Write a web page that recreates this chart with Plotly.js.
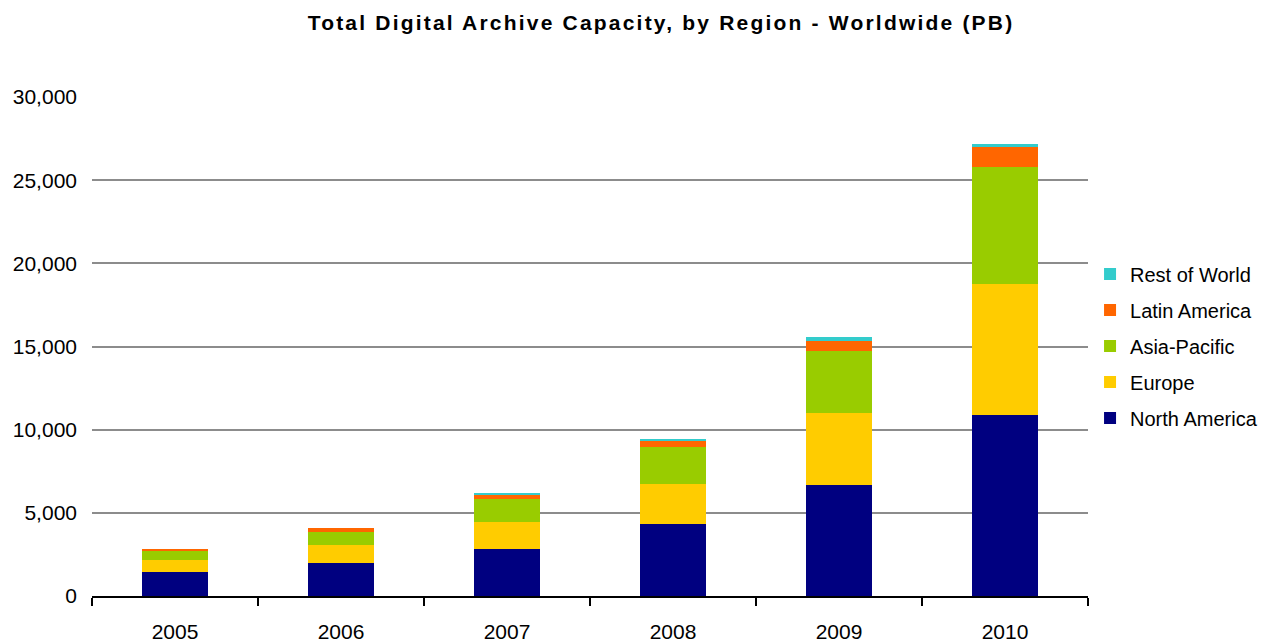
<!DOCTYPE html>
<html>
<head>
<meta charset="utf-8">
<script src="https://cdn.plot.ly/plotly-3.0.1.min.js"></script>
<style>
  html, body { margin: 0; padding: 0; background: #fff; }
  #chart { width: 1270px; height: 644px; }
  /* wider tracking on the chart title */
  #chart .gtitle { letter-spacing: 2.2px; }
</style>
</head>
<body>
<div id="chart"></div>
<script>
// Archive capacity in petabytes, by region and year
const years = ['2005', '2006', '2007', '2008', '2009', '2010'];
const northAmerica = [1420, 1960, 2800, 4310, 6670, 10870];
const europe = [720, 1080, 1630, 2410, 4320, 7900];
const asiaPacific = [540, 790, 1380, 2230, 3740, 7040];
const latinAmerica = [120, 240, 240, 360, 600, 1170];
const restOfWorld = [20, 30, 120, 120, 240, 220];

// legendRank puts Rest of World at the top of the legend, North America at the bottom
const series = [
  { name: 'North America', values: northAmerica, color: '#000080', legendRank: 5 },
  { name: 'Europe', values: europe, color: '#FFCC00', legendRank: 4 },
  { name: 'Asia-Pacific', values: asiaPacific, color: '#99CC00', legendRank: 3 },
  { name: 'Latin America', values: latinAmerica, color: '#FF6600', legendRank: 2 },
  { name: 'Rest of World', values: restOfWorld, color: '#33CCCC', legendRank: 1 }
];

const traces = series.map(s => ({
  type: 'bar',
  name: s.name,
  x: years,
  y: s.values,
  legendgroup: s.name,
  legendrank: s.legendRank,
  marker: { color: s.color, line: { width: 0 } },
  hoverinfo: 'x+y+name'
}));

const font = 'Liberation Sans, Arial, sans-serif';

const layout = {
  width: 1270,
  height: 644,
  margin: { l: 92, r: 182, t: 97, b: 48 },
  paper_bgcolor: '#ffffff',
  plot_bgcolor: '#ffffff',
  barmode: 'stack',
  bargap: 0.6,
  font: { family: font, size: 20, color: '#000000' },
  title: {
    text: '<b>Total Digital Archive Capacity, by Region - Worldwide (PB)</b>',
    font: { family: font, size: 21, color: '#000000' },
    x: 0.5205,
    xref: 'container',
    xanchor: 'center',
    y: 0.965,
    yanchor: 'middle'
  },
  xaxis: {
    type: 'category',
    showline: true,
    linecolor: '#000000',
    linewidth: 2,
    ticks: 'outside',
    tickson: 'boundaries',
    ticklen: 8,
    tickwidth: 2,
    tickcolor: '#000000',
    showgrid: false,
    ticklabelstandoff: 16,
    tickfont: { family: font, size: 21, color: '#000000' },
    fixedrange: true
  },
  yaxis: {
    range: [0, 30000],
    tickvals: [0, 5000, 10000, 15000, 20000, 25000, 30000],
    ticktext: ['0', '5,000', '10,000', '15,000', '20,000', '25,000', '30,000'],
    showgrid: true,
    gridcolor: '#8c8c8c',
    gridwidth: 2,
    zeroline: false,
    showline: false,
    ticks: '',
    ticklabelstandoff: 14,
    tickfont: { family: font, size: 21, color: '#000000' },
    fixedrange: true
  },
  legend: {
    xref: 'container',
    yref: 'container',
    x: 0.8583,
    xanchor: 'left',
    y: 0.4627,
    yanchor: 'middle',
    traceorder: 'grouped',
    tracegroupgap: 7,
    itemwidth: 30,
    font: { family: font, size: 20, color: '#000000' },
    bgcolor: 'rgba(0,0,0,0)'
  },
  showlegend: true
};

Plotly.newPlot('chart', traces, layout, { displayModeBar: false, staticPlot: true });
</script>
</body>
</html>
